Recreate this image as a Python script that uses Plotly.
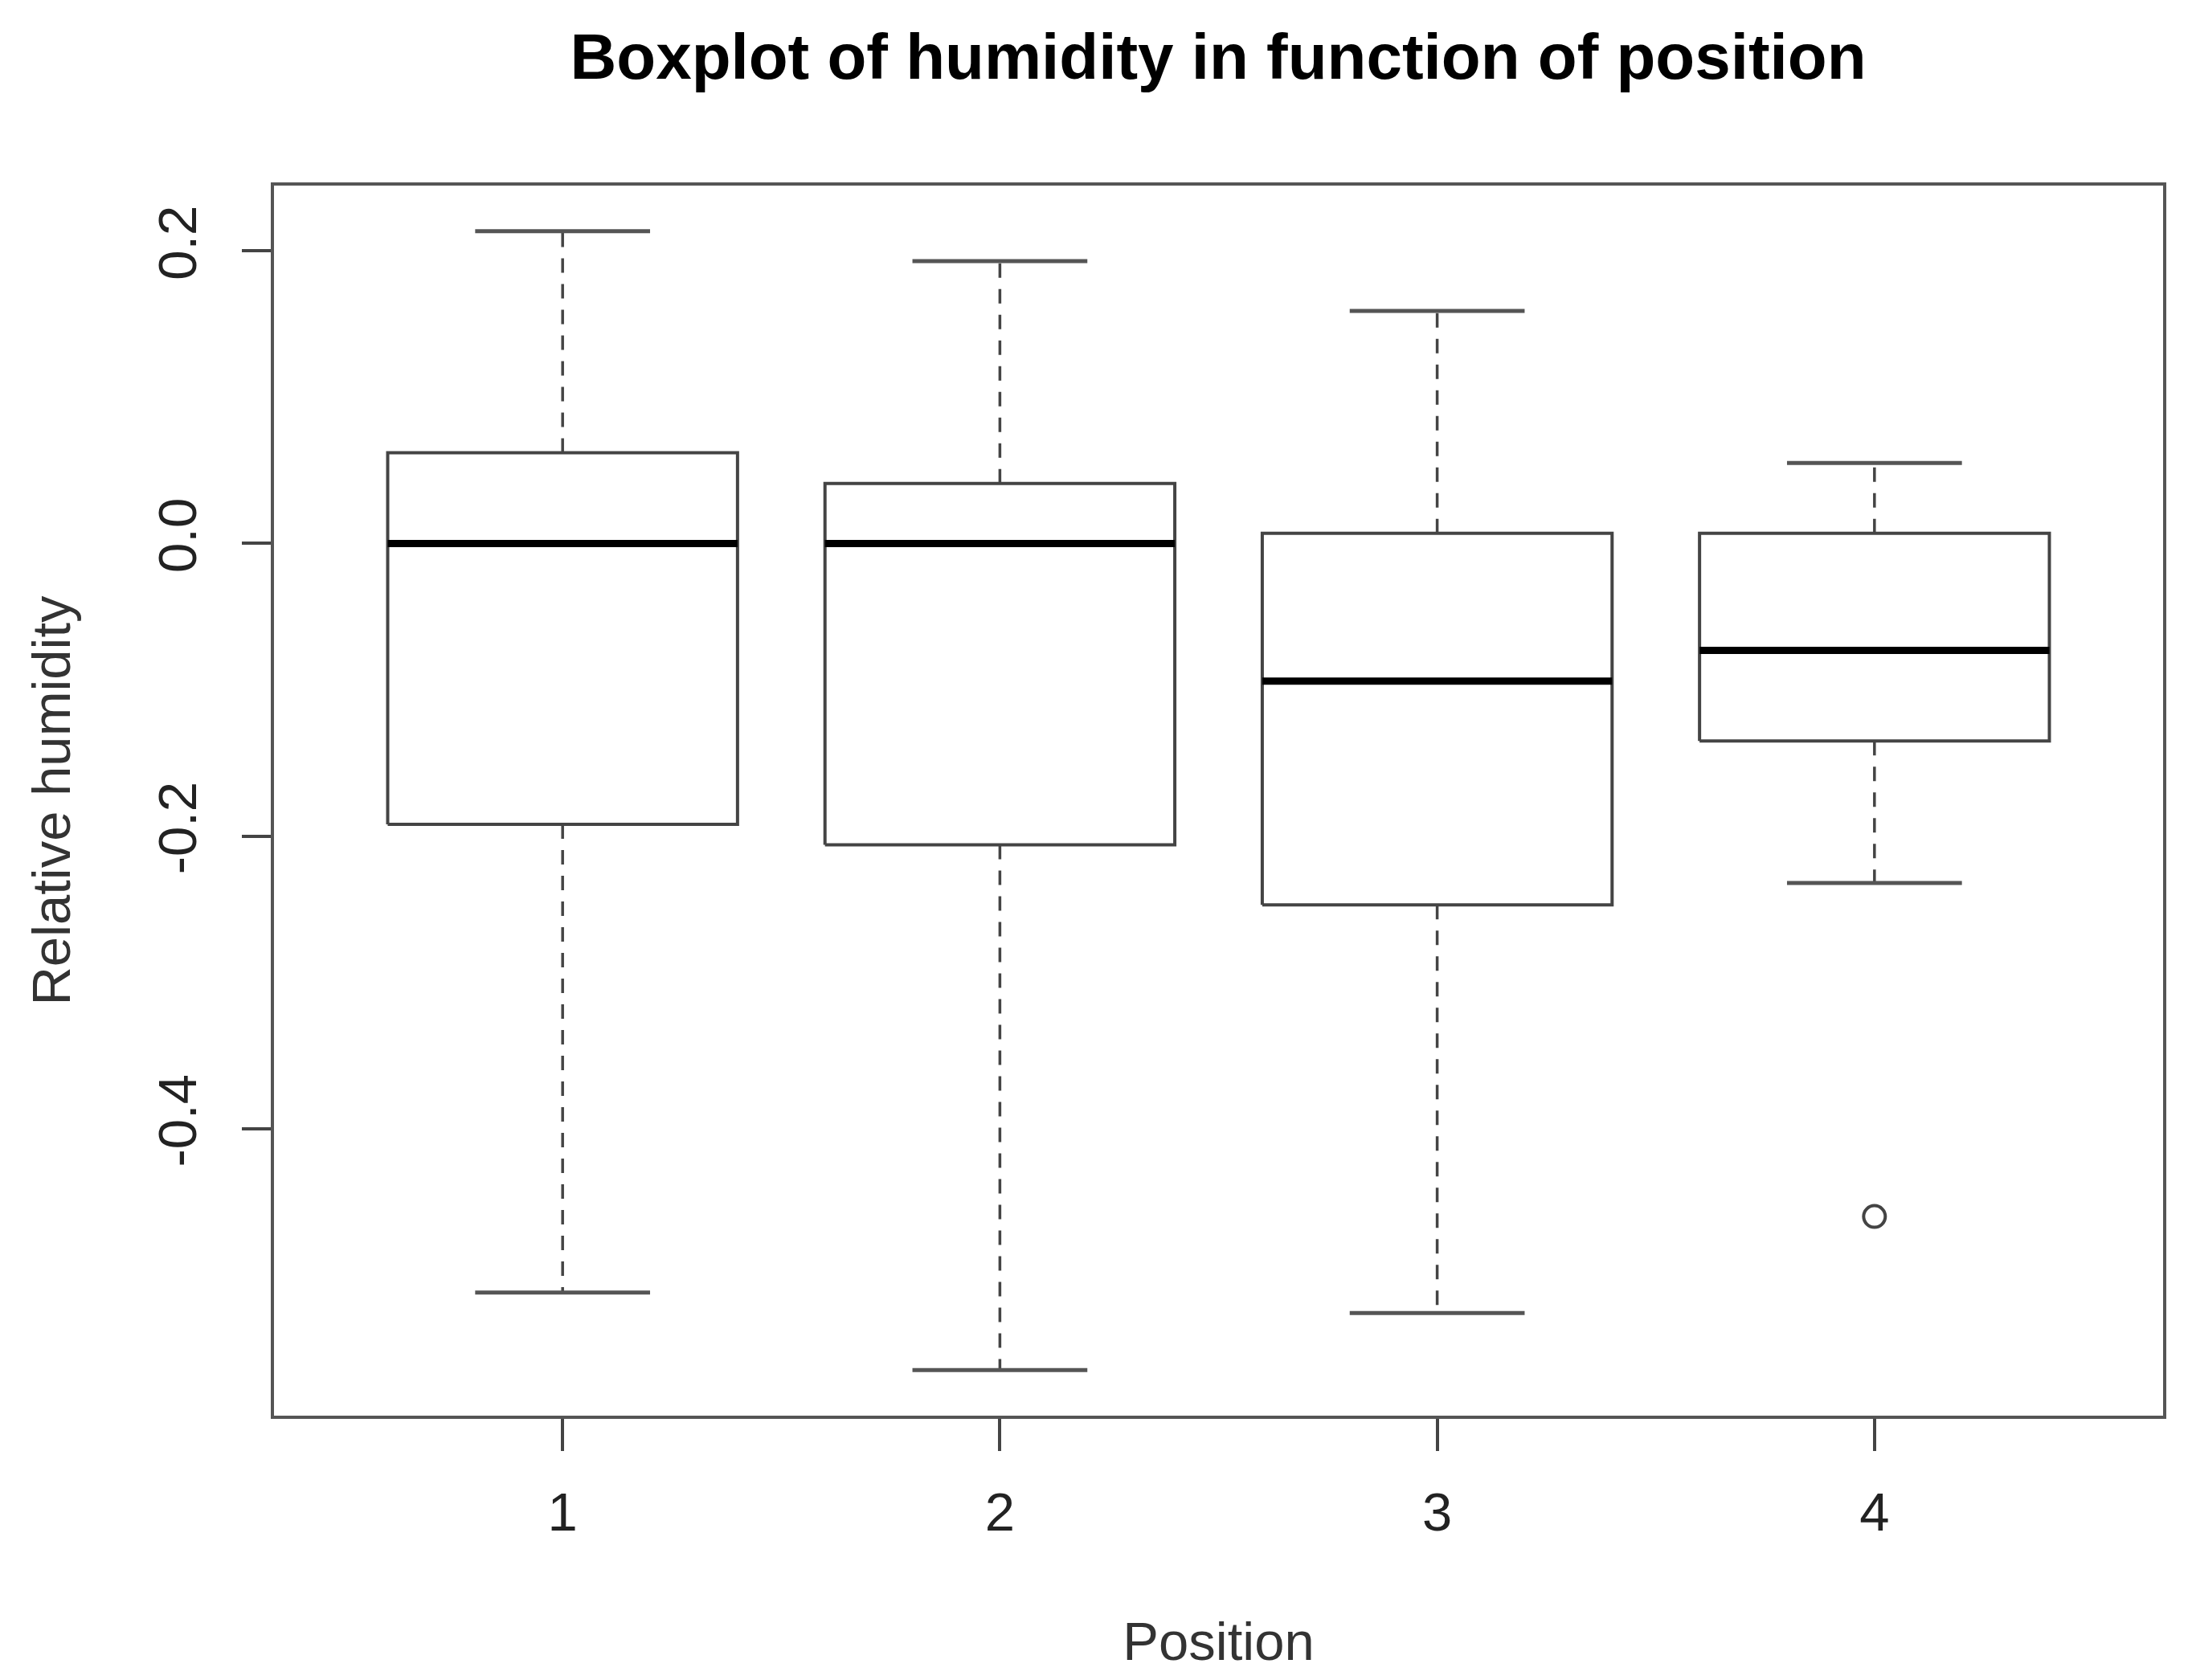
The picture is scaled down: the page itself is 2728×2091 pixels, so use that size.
import plotly.graph_objects as go

# ---- data ----
positions = [1, 2, 3, 4]
position_labels = ["1", "2", "3", "4"]
q1 = [-0.192, -0.206, -0.247, -0.135]
median = [0.000, 0.000, -0.094, -0.073]
q3 = [0.062, 0.041, 0.007, 0.007]
lower_whisker = [-0.512, -0.565, -0.526, -0.232]
upper_whisker = [0.2135, 0.193, 0.159, 0.055]
outlier_pos = [4]
outlier_val = [-0.460]
y_tick_vals = [-0.4, -0.2, 0.0, 0.2]
y_tick_text = ["-0.4", "-0.2", "0.0", "0.2"]

# ---- style ----
BOX_HALF = 0.4
CAP_HALF = 0.2
LINE = "#444444"
FONT = "Liberation Sans, Arial, sans-serif"

fig = go.Figure()

for i, p in enumerate(positions):
    # dashed whiskers
    for a, b in ((q3[i], upper_whisker[i]), (q1[i], lower_whisker[i])):
        fig.add_trace(go.Scatter(x=[p, p], y=[a, b], mode="lines",
                                 line=dict(color=LINE, width=3.5, dash="18px,14px"),
                                 hoverinfo="skip", showlegend=False))
    # whisker caps
    for v in (upper_whisker[i], lower_whisker[i]):
        fig.add_trace(go.Scatter(x=[p - CAP_HALF, p + CAP_HALF], y=[v, v], mode="lines",
                                 line=dict(color="#555555", width=5),
                                 hoverinfo="skip", showlegend=False))
    # box
    fig.add_trace(go.Scatter(
        x=[p - BOX_HALF, p + BOX_HALF, p + BOX_HALF, p - BOX_HALF, p - BOX_HALF],
        y=[q1[i], q1[i], q3[i], q3[i], q1[i]],
        mode="lines", fill="toself", fillcolor="white",
        line=dict(color=LINE, width=4), hoverinfo="skip", showlegend=False))
    # median
    fig.add_trace(go.Scatter(x=[p - BOX_HALF, p + BOX_HALF], y=[median[i], median[i]],
                             mode="lines", line=dict(color="black", width=9),
                             hoverinfo="skip", showlegend=False))

# outliers
fig.add_trace(go.Scatter(x=outlier_pos, y=outlier_val, mode="markers",
                         marker=dict(symbol="circle-open", size=27,
                                     line=dict(color=LINE, width=4), color=LINE),
                         hoverinfo="skip", showlegend=False))

ymin = min(min(lower_whisker), min(outlier_val))
ymax = max(upper_whisker)
pad = 0.04 * (ymax - ymin)
n = len(positions)
xpad = 0.04 * n

fig.update_layout(
    width=2728, height=2091,
    paper_bgcolor="white", plot_bgcolor="white",
    margin=dict(l=333, r=44, t=223, b=337),
    font=dict(family=FONT, size=67, color="#222222"),
    title=dict(text="<b>Boxplot of humidity in function of position</b>",
               x=0.5528, xanchor="center", xref="container",
               y=1 - 62 / 2091, yanchor="middle", yref="container",
               font=dict(family=FONT, size=80, color="black")),
    xaxis=dict(range=[0.5 - xpad, n + 0.5 + xpad],
               tickmode="array", tickvals=positions, ticktext=position_labels,
               ticks="outside", ticklen=40, tickwidth=3.5, tickcolor=LINE,
               showline=True, linecolor="#555555", linewidth=4, mirror=True,
               showgrid=False, zeroline=False,
               ticklabelstandoff=19,
               tickfont=dict(size=67, color="#222222"),
               title=dict(text="Position", standoff=102,
                          font=dict(size=67, color="#333333"))),
    yaxis=dict(range=[ymin - pad, ymax + pad],
               tickmode="array", tickvals=y_tick_vals, ticktext=y_tick_text,
               tickangle=-90,
               ticks="outside", ticklen=36, tickwidth=3.5, tickcolor=LINE,
               showline=True, linecolor="#555555", linewidth=4, mirror=True,
               showgrid=False, zeroline=False,
               ticklabelstandoff=30,
               tickfont=dict(size=67, color="#222222"),
               title=dict(text="Relative humidity", standoff=75,
                          font=dict(size=67, color="#333333"))),
)

fig.write_html("out.html")
